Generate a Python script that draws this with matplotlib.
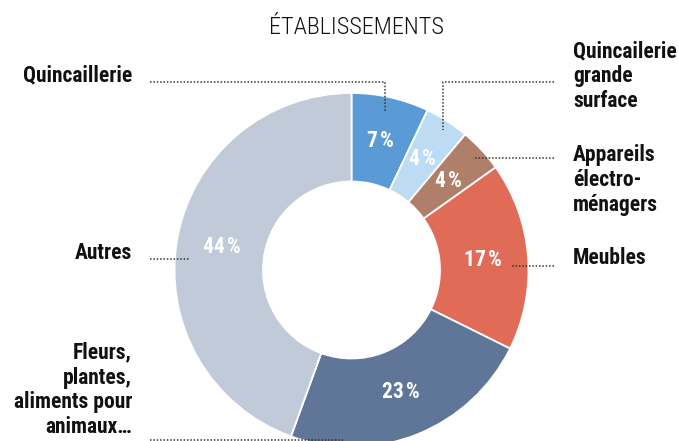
import matplotlib
matplotlib.use("Agg")
import numpy as np
import matplotlib.pyplot as plt

plt.rcParams['font.family'] = ['Roboto Condensed', 'DejaVu Sans']

# share of establishments, clockwise from the top
categories = ["Quincaillerie", "Quincailerie\ngrande\nsurface", "Appareils\nélectro-\nménagers",
              "Meubles", "Fleurs,\nplantes,\naliments pour\nanimaux…", "Autres"]
values = [7, 4, 4, 17, 23, 44]
colors = ["#5b9bd5", "#bddcf3", "#b07f6a", "#e06c58", "#5f7699", "#c1cad9"]

W, H = 678, 441
fig = plt.figure(figsize=(W / 100, H / 100), dpi=100)

# donut: centre and radius in pixels
cx, cy, r = 351.5, 270, 177
ax = fig.add_axes([(cx - r) / W, (H - cy - r) / H, 2 * r / W, 2 * r / H])
wedges, texts = ax.pie(values, colors=colors, startangle=90, counterclock=False,
                       radius=1, wedgeprops=dict(width=0.5, edgecolor="white", linewidth=1.3))
ax.set_xlim(-1, 1)
ax.set_ylim(-1, 1)
ax.set_aspect("equal")
ax.axis("off")

# percentage labels inside the ring
for w, v in zip(wedges, values):
    ang = np.deg2rad((w.theta1 + w.theta2) / 2)
    ax.text(0.745 * np.cos(ang), 0.745 * np.sin(ang), f"{v}\u200a%", color="white",
            fontsize=15.5, fontweight="bold", ha="center", va="center")

# overlay in pixel coordinates for title, labels and leader lines
ov = fig.add_axes([0, 0, 1, 1], zorder=5)
ov.set_xlim(0, W)
ov.set_ylim(H, 0)
ov.axis("off")

ov.text(356, 28, "ÉTABLISSEMENTS", fontsize=17.5, fontweight=300, ha="center", va="center", color="#111111")

lab = dict(fontsize=15.5, fontweight="bold", color="#111111", linespacing=1.17)
ov.text(132, 75, categories[0], ha="right", va="center", **lab)
ov.text(573, 76, categories[1], ha="left", va="center", **lab)
ov.text(573, 180, categories[2], ha="left", va="center", **lab)
ov.text(573, 258, categories[3], ha="left", va="center", **lab)
ov.text(132, 390, categories[4], ha="right", va="center", **lab)
ov.text(132, 253, categories[5], ha="right", va="center", **lab)

dot = dict(color="#333333", linewidth=1.1, linestyle=(0, (1, 1.2)))
ov.plot([150, 385, 385], [82, 82, 111], **dot)
ov.plot([554, 443, 443], [82, 82, 130], **dot)
ov.plot([554, 473], [158, 158], **dot)
ov.plot([554, 512], [266, 266], **dot)
ov.plot([150, 190], [259, 259], **dot)
ov.plot([150, 345], [440, 440], **dot)

fig.savefig("out.png", dpi=100)
